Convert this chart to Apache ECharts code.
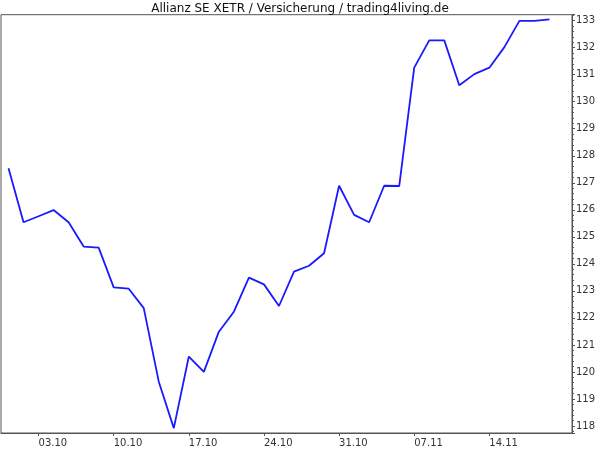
<!DOCTYPE html>
<html>
<head>
<meta charset="utf-8">
<script src="https://cdn.jsdelivr.net/npm/echarts@6/dist/echarts.min.js"></script>
<style>html,body{margin:0;padding:0;background:#fff}#c{width:600px;height:450px}</style>
</head>
<body>
<div id="c"></div>
<script>
const titleText = 'Allianz SE XETR / Versicherung / trading4living.de';
const dates = [
  '29.09','30.09',
  '03.10','04.10','05.10','06.10','07.10',
  '10.10','11.10','12.10','13.10','14.10',
  '17.10','18.10','19.10','20.10','21.10',
  '24.10','25.10','26.10','27.10','28.10',
  '31.10','01.11','02.11','03.11','04.11',
  '07.11','08.11','09.11','10.11','11.11',
  '14.11','15.11','16.11','17.11','18.11',
  '21.11'
];
const prices = [
  127.54, 125.54,
  125.76, 125.99, 125.54, 124.64, 124.60,
  123.13, 123.08, 122.36, 119.64, 117.92,
  120.57, 120.00, 121.49, 122.23, 123.49,
  123.24, 122.44, 123.71, 123.93, 124.39,
  126.89, 125.81, 125.54, 126.89, 126.88,
  131.26, 132.27, 132.27, 130.61, 131.02,
  131.26, 132.02, 132.99, 132.99, 133.05
];
const yMin = 117.74, yMax = 133.22;
const isMonday = (i) => i >= 2 && i <= 36 && (i - 2) % 5 === 0;

const chart = echarts.init(document.getElementById('c'), null, {renderer: 'canvas'});
const labelFont = {fontFamily: 'DejaVu Sans', fontSize: 10, color: '#333'};
chart.setOption({
  animation: false,
  backgroundColor: '#fff',
  title: {
    text: titleText, left: 'center', top: -2,
    textStyle: {fontFamily: 'DejaVu Sans', fontSize: 12, fontWeight: 'normal', color: '#111'}
  },
  grid: {left: 1, right: 28, top: 14.7, bottom: 17, show: true, borderColor: '#555', borderWidth: 1, backgroundColor: '#fff'},
  xAxis: {
    type: 'category', data: dates, boundaryGap: true,
    axisLine: {show: true, lineStyle: {color: '#555', width: 1}},
    axisTick: {show: true, alignWithLabel: true, length: 3, lineStyle: {color: '#555'}, interval: isMonday},
    axisLabel: Object.assign({interval: isMonday, align: 'left', margin: 5}, labelFont),
    splitLine: {show: false}
  },
  yAxis: {
    type: 'value', position: 'right', min: yMin, max: yMax, splitNumber: 15, scale: true,
    axisLine: {show: true, lineStyle: {color: '#555', width: 1}},
    axisTick: {show: true, length: 3, lineStyle: {color: '#555'}},
    minorTick: {show: true, splitNumber: 5, length: 2, lineStyle: {color: '#555'}},
    axisLabel: Object.assign({margin: 4, showMinLabel: false, showMaxLabel: false}, labelFont),
    splitLine: {show: false}
  },
  series: [{
    type: 'line', data: prices, showSymbol: false, symbol: 'none',
    lineStyle: {color: '#1a1aff', width: 1.8}
  }]
});
</script>
</body>
</html>
